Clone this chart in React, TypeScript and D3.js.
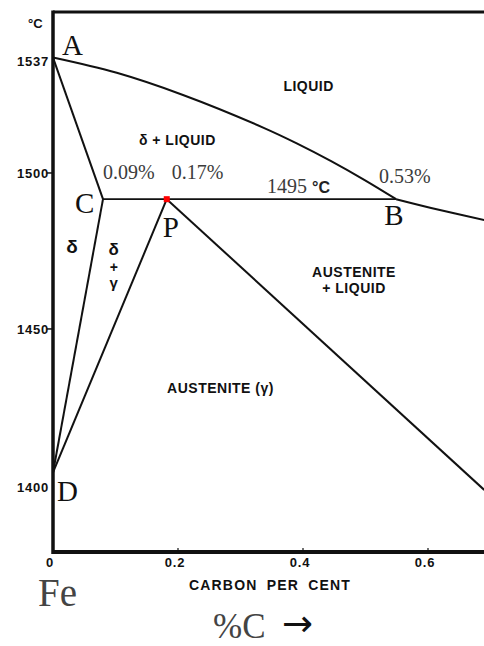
import React from 'react';
import * as d3 from 'd3';

// ---- data (carbon %, temperature °C) ----
const xDomain: [number, number] = [0, 0.6896];
const tDomain: [number, number] = [1378.5, 1551.6];

const yTickValues = [1537, 1500, 1450, 1400];
const yTickMarks = [1500, 1450];
const xTickValues = [0, 0.2, 0.4, 0.6];
const xTickLabels = ['0', '0.2', '0.4', '0.6'];

const liquidusAB: [number, number][] = [
  [0, 1537], [0.102, 1532.1], [0.208, 1525.0], [0.338, 1514.4], [0.39, 1509.5],
  [0.445, 1503.8], [0.498, 1497.8], [0.549, 1491.6],
];
const liquidusBeyondB: [number, number][] = [[0.549, 1491.6], [0.605, 1488.8], [0.69, 1484.9]];
const solidusAC: [number, number][] = [[0, 1537], [0.08, 1491.6]];
const peritecticCB: [number, number][] = [[0.08, 1491.6], [0.549, 1491.6]];
const deltaBoundaryCD: [number, number][] = [[0.08, 1491.6], [0, 1404]];
const gammaBoundaryPD: [number, number][] = [[0.182, 1491.6], [0, 1404]];
const gammaSolidusP: [number, number][] = [[0.182, 1491.6], [0.69, 1398.4]];
const pointP: [number, number] = [0.182, 1491.6];

const W = 484, H = 646;
const serif = '"Liberation Serif", "Times New Roman", serif';
const sans = '"Liberation Sans", Arial, sans-serif';

export default function App() {
  const x = d3.scaleLinear().domain(xDomain).range([53, 484]);
  const y = d3.scaleLinear().domain(tDomain).range([552, 12]);
  const straight = d3.line<[number, number]>().x(d => x(d[0])).y(d => y(d[1]));
  const curved = d3.line<[number, number]>().x(d => x(d[0])).y(d => y(d[1])).curve(d3.curveCatmullRom.alpha(0.5));

  const lineStyle = { fill: 'none', stroke: '#111', strokeWidth: 2 };
  const regionText = { fontFamily: sans, fontWeight: 700, fontSize: 14, letterSpacing: 0.5, fill: '#111' } as const;
  const tickText = { fontFamily: sans, fontWeight: 700, fontSize: 13, letterSpacing: 0.8, fill: '#111' } as const;
  const pctText = { fontFamily: serif, fontSize: 20, fill: '#3c3c3c' } as const;
  const ptText = { fontFamily: serif, fontSize: 29, fill: '#111' } as const;

  return (
    <svg width={W} height={H} style={{ position: 'absolute', left: 0, top: 0, background: '#fff' }}>
      <rect x={0} y={0} width={W} height={H} fill="#fff" />
      {/* frame */}
      <line x1={x(0)} x2={W} y1={y(tDomain[1])} y2={y(tDomain[1])} stroke="#111" strokeWidth={3} />
      <line x1={x(0)} x2={W} y1={y(tDomain[0])} y2={y(tDomain[0])} stroke="#111" strokeWidth={4} />
      <line x1={x(0)} x2={x(0)} y1={y(tDomain[1]) - 1.5} y2={y(tDomain[0]) + 2} stroke="#111" strokeWidth={3.5} />

      {/* y ticks */}
      {yTickMarks.map(t => (
        <line key={t} x1={x(0) - 6} x2={x(0)} y1={y(t)} y2={y(t)} stroke="#111" strokeWidth={1.5} />
      ))}
      {yTickValues.map(t => (
        <text key={t} x={x(0) - 4} y={y(t) + 5 + (t === 1537 ? 3 : 0) + (t === 1400 ? 2 : 0)} textAnchor="end"
          style={tickText}>{t}</text>
      ))}
      {/* x ticks */}
      {xTickValues.slice(1).map(v => (
        <line key={v} x1={x(v)} x2={x(v)} y1={y(tDomain[0])} y2={y(tDomain[0]) - 4} stroke="#111" strokeWidth={1.2} />
      ))}
      {xTickValues.map((v, i) => (
        <text key={v} x={x(v) - 3} y={567} textAnchor="middle" style={tickText}>{xTickLabels[i]}</text>
      ))}
      <text x={270} y={590} textAnchor="middle"
        style={{ fontFamily: sans, fontWeight: 700, fontSize: 14, letterSpacing: 1.2, wordSpacing: 4, fill: '#111' }}>CARBON PER CENT</text>
      <text x={28} y={28} style={{ fontFamily: sans, fontWeight: 700, fontSize: 13, fill: '#111' }}>°C</text>

      {/* phase boundaries */}
      <path d={curved(liquidusAB) || ''} style={lineStyle} />
      <path d={curved(liquidusBeyondB) || ''} style={lineStyle} />
      <path d={straight(solidusAC) || ''} style={lineStyle} />
      <path d={straight(peritecticCB) || ''} style={{ ...lineStyle, strokeWidth: 1.8 }} />
      <path d={straight(deltaBoundaryCD) || ''} style={lineStyle} />
      <path d={straight(gammaBoundaryPD) || ''} style={lineStyle} />
      <path d={straight(gammaSolidusP) || ''} style={lineStyle} />
      <rect x={x(pointP[0]) - 3} y={y(pointP[1]) - 3} width={6} height={6} fill="#f00" />

      {/* point labels */}
      <text x={x(0) + 9} y={y(1537) - 3} style={ptText}>A</text>
      <text x={x(0.08) - 28} y={y(1491.6) + 14} style={ptText}>C</text>
      <text x={x(0.182) - 4} y={y(1491.6) + 38} style={ptText}>P</text>
      <text x={x(0.549) - 12} y={y(1491.6) + 26} style={ptText}>B</text>
      <text x={x(0) + 4} y={y(1404) + 29} style={ptText}>D</text>

      {/* composition labels */}
      <text x={x(0.08)} y={y(1498.1)} style={pctText}>0.09%</text>
      <text x={x(0.19)} y={y(1498.1)} style={pctText}>0.17%</text>
      <text x={x(0.5216)} y={y(1496.8)} style={pctText}>0.53%</text>
      <text x={x(0.3424)} y={y(1493.6)} style={pctText}>1495 <tspan style={{ fontFamily: sans, fontWeight: 700, fontSize: 16, fill: '#222' }}>°C</tspan></text>

      {/* region labels */}
      <text x={x(0.409)} y={y(1526.3)} textAnchor="middle" style={regionText}>LIQUID</text>
      <text x={x(0.199)} y={y(1509)} textAnchor="middle" style={regionText}>δ + LIQUID</text>
      <text x={x(0.4816)} y={y(1466.7)} textAnchor="middle" style={regionText}>AUSTENITE</text>
      <text x={x(0.4816)} y={y(1461.5)} textAnchor="middle" style={regionText}>+ LIQUID</text>
      <text x={x(0.268)} y={y(1429.5)} textAnchor="middle" style={regionText}>AUSTENITE (γ)</text>
      <text x={x(0.031)} y={y(1474.4)} textAnchor="middle" style={{ ...regionText, fontSize: 19 }}>δ</text>
      <text x={x(0.0976)} y={y(1473.6)} textAnchor="middle" style={{ ...regionText, fontSize: 17 }}>δ</text>
      <text x={x(0.0976)} y={y(1468.4)} textAnchor="middle" style={{ ...regionText, fontSize: 14 }}>+</text>
      <text x={x(0.0976)} y={y(1463)} textAnchor="middle" style={{ ...regionText, fontSize: 15 }}>γ</text>

      {/* bottom captions */}
      <text x={213} y={638} style={{ fontFamily: serif, fontSize: 35, fill: '#444' }}>%C</text>
      <text x={38} y={606} style={{ fontFamily: serif, fontSize: 39, fill: '#444' }}>Fe</text>
      <text x={282} y={636} style={{ fontFamily: '"DejaVu Sans", sans-serif', fontSize: 37, fill: '#111' }}>→</text>
    </svg>
  );
}
